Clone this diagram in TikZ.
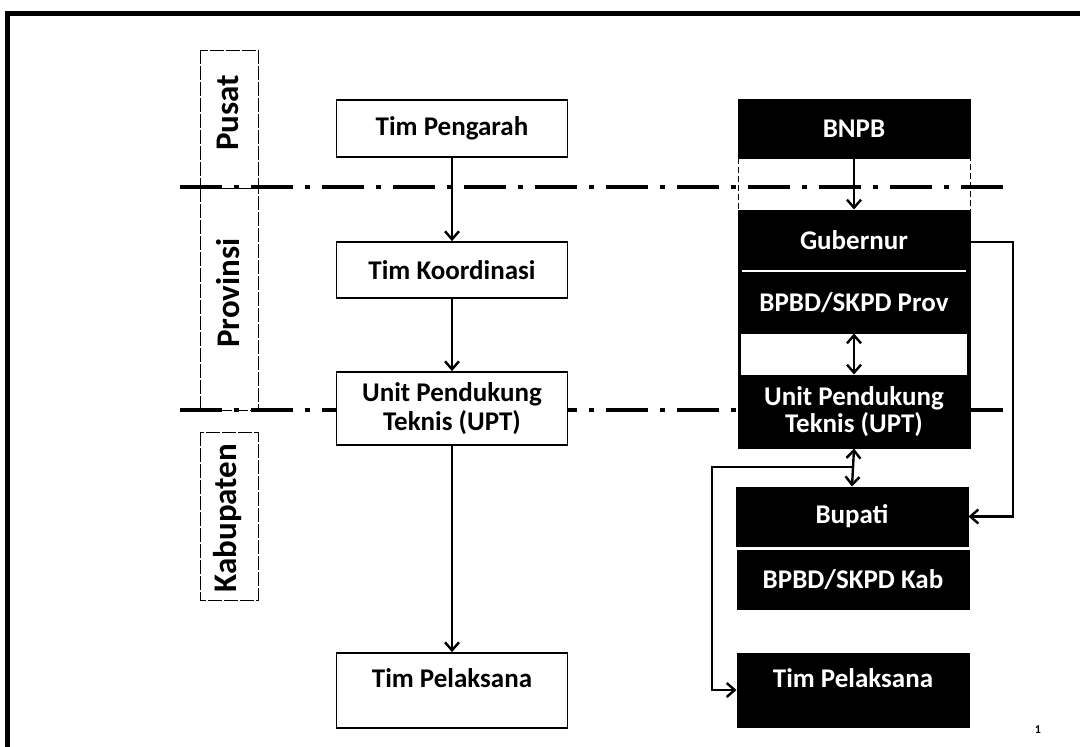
\documentclass[tikz,border=0pt]{standalone}
\usepackage{fontspec}
\setmainfont{Carlito}
\usetikzlibrary{arrows.meta}
\begin{document}
\begin{tikzpicture}[x=1pt,y=-1pt,
  wbox/.style={draw=black,line width=1.8pt,fill=white,minimum width=231pt,inner sep=0pt,align=center,font=\fontsize{27}{29}\selectfont\bfseries},
  bbox/.style={draw=black,line width=1pt,fill=black,text=white,minimum width=232pt,inner sep=0pt,align=center,font=\fontsize{27}{27}\selectfont\bfseries},
  sect/.style={draw=black,line width=1pt,dash pattern=on 14pt off 2pt},
  secttext/.style={rotate=90,font=\fontsize{33}{34}\selectfont\bfseries},
  level/.style={line width=3.2pt,dash pattern=on 42pt off 12pt on 5pt off 12pt},
  conn/.style={line width=2.4pt,-{Straight Barb[length=8pt,width=14pt]}},
  dconn/.style={line width=2.4pt,{Straight Barb[length=8pt,width=14pt]}-{Straight Barb[length=8pt,width=14pt]}}]
\useasboundingbox (0,0) rectangle (1080,747);
% frame
\draw[line width=5pt] (7,747) -- (7,13) -- (1080,13);
% section label boxes
\draw[sect] (200,50) rectangle (258,188);
\draw[sect] (200,188) rectangle (258,410);
\draw[sect] (200,432) rectangle (258,600);
\node[secttext] (pusat) at (228,113) {Pusat};
\node[secttext] (prov) at (228,293) {Provinsi};
\node[secttext] (kab) at (228,518) {Kabupaten};
% gap region between BNPB and Gubernur
\draw[line width=0.8pt,dash pattern=on 6pt off 3pt] (738,158) rectangle (970,210);
% container for Gubernur .. UPT
\draw[fill=black] (738,210) rectangle (970,448);
\draw[fill=white,draw=none] (741,333) rectangle (967,375);
% level lines
\draw[level] (180,187) -- (1005,187);
\draw[level] (180,410) -- (1005,410);
% left column
\node[wbox,minimum height=57pt] (tp) at (452,128.5) {Tim Pengarah};
\node[wbox,minimum height=56pt] (tk) at (452,270) {Tim Koordinasi};
\node[wbox,minimum height=73pt] (upt) at (452,408.5) {Unit Pendukung\\Teknis (UPT)};
\node[wbox,text height=27pt,text depth=33pt,inner ysep=7.5pt] (tpl) at (452,690.5) {Tim Pelaksana};
% right column
\node[bbox,minimum height=59pt] (bnpb) at (854,128.5) {BNPB};
\node[bbox,minimum height=60pt] (gub) at (854,240) {Gubernur};
\node[bbox,minimum height=61pt] (bpbdp) at (854,302.5) {BPBD/SKPD Prov};
\draw[white,line width=2pt] (742,271) -- (966,271);
\node[bbox,minimum height=73pt] (uptr) at (854,411.5) {Unit Pendukung\\Teknis (UPT)};
\node[bbox,minimum height=59pt] (bup) at (852,516.5) {Bupati};
\node[bbox,minimum height=59pt] (bpbdk) at (853,579.5) {BPBD/SKPD Kab};
\node[bbox,text height=27pt,text depth=33pt,inner ysep=7pt] (tplr) at (853,690) {Tim Pelaksana};
% left connectors
\draw[conn] (tp.south) -- (tk.north);
\draw[conn] (tk.south) -- (upt.north);
\draw[conn] (upt.south) -- (tpl.north);
% right connectors
\draw[conn] (bnpb.south) -- (gub.north);
\draw[dconn] (bpbdp.south) -- (uptr.north);
\draw[dconn] (uptr.south) -- (bup.north);
\coordinate (j) at (853,467);
\coordinate (ge) at (1013,242);
\coordinate (w) at (712,690);
\draw[conn] (gub.east |- ge) -- (ge) |- (bup.east);
\draw[conn] (j) -| (w) -- (tplr.west |- w);
% page number
\node[font=\fontsize{12}{12}\selectfont\bfseries] (pg) at (1038,730) {1};
\end{tikzpicture}
\end{document}
